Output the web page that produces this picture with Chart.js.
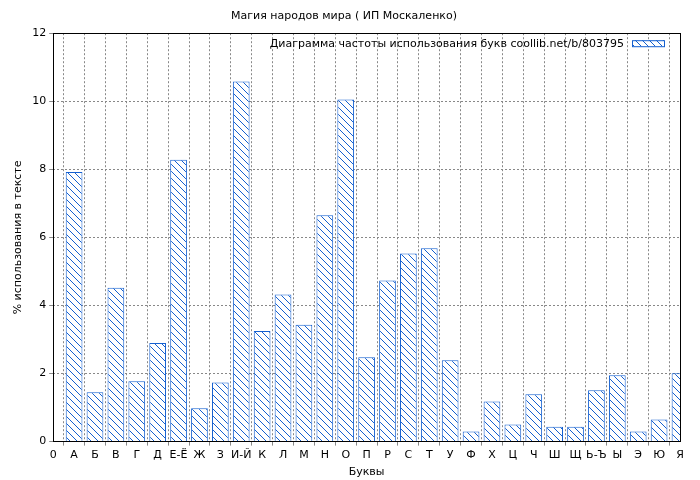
<!DOCTYPE html>
<html>
<head>
<meta charset="utf-8">
<script src="https://cdn.jsdelivr.net/npm/chart.js@4"></script>
<style>
  html, body { margin: 0; padding: 0; background: #fff; }
  #wrap { width: 700px; height: 480px; }
</style>
</head>
<body>
<div id="wrap"><canvas id="c"></canvas></div>
<script>
const letters = ['0', 'А', 'Б', 'В', 'Г', 'Д', 'Е-Ё', 'Ж', 'З', 'И-Й', 'К', 'Л', 'М', 'Н', 'О', 'П',
  'Р', 'С', 'Т', 'У', 'Ф', 'Х', 'Ц', 'Ч', 'Ш', 'Щ', 'Ь-Ъ', 'Ы', 'Э', 'Ю', 'Я'];
const usage = [null, 7.92, 1.45, 4.52, 1.77, 2.9, 8.28, 0.98, 1.74, 10.58, 3.25, 4.32, 3.43, 6.65, 10.05, 2.48,
  4.73, 5.53, 5.68, 2.39, 0.3, 1.18, 0.5, 1.39, 0.44, 0.44, 1.51, 1.95, 0.3, 0.65, 2.01];
const legendText = 'Диаграмма частоты использования букв coollib.net/b/803795';

const FONT = "'DejaVu Sans', sans-serif";
const BLUE = '#1560d0';

// diagonal hatch fill, lines running top-left to bottom-right
function makeHatch() {
  const p = document.createElement('canvas');
  p.width = 7; p.height = 7;
  const g = p.getContext('2d');
  g.fillStyle = '#fff';
  g.fillRect(0, 0, 7, 7);
  g.strokeStyle = BLUE;
  g.lineWidth = 1;
  g.beginPath();
  g.moveTo(0, 0); g.lineTo(7, 7);
  g.moveTo(-3.5, 3.5); g.lineTo(3.5, 10.5);
  g.moveTo(3.5, -3.5); g.lineTo(10.5, 3.5);
  g.stroke();
  return g.createPattern(p, 'repeat');
}
const hatch = makeHatch();

// legend drawn inside the plot area, top right
const innerLegend = {
  id: 'innerLegend',
  afterDraw(chart) {
    const { ctx, chartArea } = chart;
    ctx.save();
    const bx = chartArea.right - 48, by = chartArea.top + 7;
    ctx.fillStyle = hatch;
    ctx.fillRect(bx, by, 32, 6);
    ctx.strokeStyle = BLUE;
    ctx.strokeRect(bx + 0.5, by + 0.5, 32, 6);
    ctx.fillStyle = '#000';
    ctx.font = '11px ' + FONT;
    ctx.textAlign = 'right';
    ctx.textBaseline = 'middle';
    ctx.fillText(legendText, bx - 8, by + 4);
    ctx.restore();
  }
};

const frame = {
  id: 'frame',
  afterDraw(chart) {
    const { ctx, chartArea: a } = chart;
    ctx.save();
    ctx.strokeStyle = '#000';
    ctx.lineWidth = 1;
    ctx.strokeRect(Math.round(a.left) + 0.5, Math.round(a.top) + 0.5,
      Math.round(a.width), Math.round(a.height));
    ctx.restore();
  }
};

new Chart(document.getElementById('c'), {
  type: 'bar',
  data: {
    labels: letters,
    datasets: [{
      label: legendText,
      data: usage,
      backgroundColor: hatch,
      borderColor: BLUE,
      borderWidth: 1,
      barPercentage: 0.8,
      categoryPercentage: 1,
    }],
  },
  options: {
    responsive: true,
    maintainAspectRatio: false,
    animation: false,
    layout: { padding: { left: 8, right: 20, top: 4, bottom: 0 } },
    plugins: {
      legend: { display: false },
      tooltip: { enabled: false },
      title: {
        display: true,
        text: 'Магия народов мира ( ИП Москаленко)',
        color: '#000',
        font: { family: FONT, size: 11, weight: 'normal' },
        padding: { top: 6, bottom: 10 },
      },
    },
    scales: {
      x: {
        offset: false,
        grid: { color: '#888', tickLength: 4 },
        border: { display: false, dash: [2, 2] },
        ticks: { color: '#000', font: { family: FONT, size: 11 }, maxRotation: 0, autoSkip: false },
        title: { display: true, text: 'Буквы', color: '#000', font: { family: FONT, size: 11 }, padding: 1 },
      },
      y: {
        min: 0,
        max: 12,
        grid: { color: '#888', tickLength: 4 },
        border: { display: false, dash: [2, 2] },
        ticks: { stepSize: 2, color: '#000', font: { family: FONT, size: 11 } },
        title: { display: true, text: '% использования в тексте', color: '#000', font: { family: FONT, size: 11 } },
      },
    },
  },
  plugins: [innerLegend, frame],
});
</script>
</body>
</html>
